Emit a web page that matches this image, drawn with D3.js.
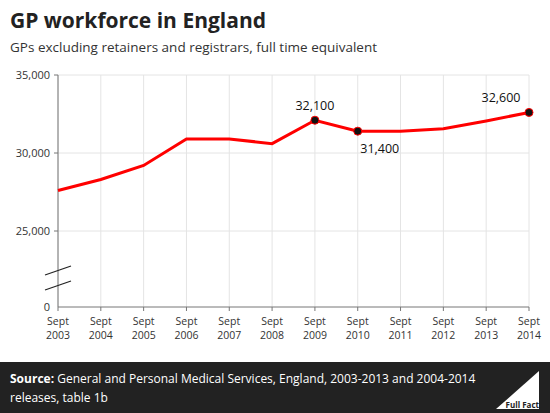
<!DOCTYPE html>
<html><head><meta charset="utf-8">
<script src="https://cdn.jsdelivr.net/npm/d3@7"></script>
<style>body{margin:0;background:#fff}svg{display:block;font-family:"Open Sans",sans-serif}</style>
</head><body>
<svg id="c" width="550" height="413"></svg>
<script>
const years = ["2003","2004","2005","2006","2007","2008","2009","2010","2011","2012","2013","2014"];
const gps = [27600,28300,29200,30900,30900,30600,32100,31400,31400,31550,32050,32600];
const yTicks = [25000,30000,35000];
const labelled = [{i:6,text:"32,100",dy:-10},{i:7,text:"31,400",dy:22,dx:22},{i:11,text:"32,600",dy:-10,dx:-28}];

const svg = d3.select("#c");
const x = d3.scalePoint().domain(years).range([58,529]);
const y = d3.scaleLinear().domain([25000,35000]).range([231,75]);
const yZero = 307;

svg.append("text").attr("x",10).attr("y",28).attr("font-size",21).attr("font-weight","bold").attr("fill","#222").text("GP workforce in England");
svg.append("text").attr("x",10).attr("y",52).attr("font-size",13.5).attr("fill","#333").text("GPs excluding retainers and registrars, full time equivalent");

// grid
svg.selectAll(".vg").data(years).join("line")
  .attr("x1",d=>x(d)).attr("x2",d=>x(d)).attr("y1",75).attr("y2",yZero).attr("stroke","#e4e4e4");
svg.selectAll(".hg").data(yTicks).join("line")
  .attr("x1",58).attr("x2",529).attr("y1",d=>y(d)).attr("y2",d=>y(d)).attr("stroke","#e4e4e4");

// axes
const ax = "#777";
svg.append("line").attr("x1",58).attr("x2",58).attr("y1",75).attr("y2",yZero).attr("stroke",ax);
svg.append("line").attr("x1",58).attr("x2",529).attr("y1",yZero).attr("y2",yZero).attr("stroke",ax);
svg.selectAll(".yt").data(yTicks).join("text")
  .attr("x",50).attr("y",d=>y(d)+4).attr("text-anchor","end").attr("font-size",11).attr("fill","#333")
  .text(d=>d3.format(",")(d));
svg.append("text").attr("x",50).attr("y",yZero+4).attr("text-anchor","end").attr("font-size",11).attr("fill","#333").text("0");
svg.selectAll(".yl").data(yTicks).join("line").attr("x1",54).attr("x2",58).attr("y1",d=>y(d)).attr("y2",d=>y(d)).attr("stroke",ax);
// break marks
[[275,266],[290,281]].forEach(([a,b])=>svg.append("line").attr("x1",45).attr("x2",71).attr("y1",a).attr("y2",b).attr("stroke","#222").attr("stroke-width",1.2));

const xl = svg.selectAll(".xl").data(years).join("g").attr("transform",d=>`translate(${x(d)},${yZero})`);
xl.append("line").attr("y2",4).attr("stroke",ax);
xl.append("text").attr("y",18).attr("text-anchor","middle").attr("font-size",10.5).attr("fill","#333").text("Sept");
xl.append("text").attr("y",32).attr("text-anchor","middle").attr("font-size",10.5).attr("fill","#333").text(d=>d);

// line
svg.append("path").datum(gps)
  .attr("d",d3.line().x((d,i)=>x(years[i])).y(d=>y(d)))
  .attr("fill","none").attr("stroke","#f00").attr("stroke-width",3);

labelled.forEach(l=>{
  svg.append("circle").attr("cx",x(years[l.i])).attr("cy",y(gps[l.i])).attr("r",4).attr("fill","#111").attr("stroke","#f00").attr("stroke-width",1);
  svg.append("text").attr("x",x(years[l.i])+(l.dx||0)).attr("y",y(gps[l.i])+l.dy).attr("text-anchor","middle")
    .attr("font-size",12.5).attr("fill","#111").text(l.text);
});

// footer
svg.append("rect").attr("x",0).attr("y",362).attr("width",550).attr("height",51).attr("fill","#222");
const f = svg.append("text").attr("x",10).attr("y",383).attr("font-size",12).attr("fill","#fff");
f.append("tspan").attr("font-weight","bold").text("Source: ");
f.append("tspan").text("General and Personal Medical Services, England, 2003-2013 and 2004-2014");
svg.append("text").attr("x",10).attr("y",402).attr("font-size",12).attr("fill","#fff").text("releases, table 1b");
svg.append("path").attr("d","M496,409 L539,371 L539,409 Z").attr("fill","#fff");
svg.append("text").attr("x",539).attr("y",408).attr("text-anchor","end").attr("font-size",8).attr("font-weight","bold").attr("fill","#222").text("Full Fact");
</script>
</body></html>
